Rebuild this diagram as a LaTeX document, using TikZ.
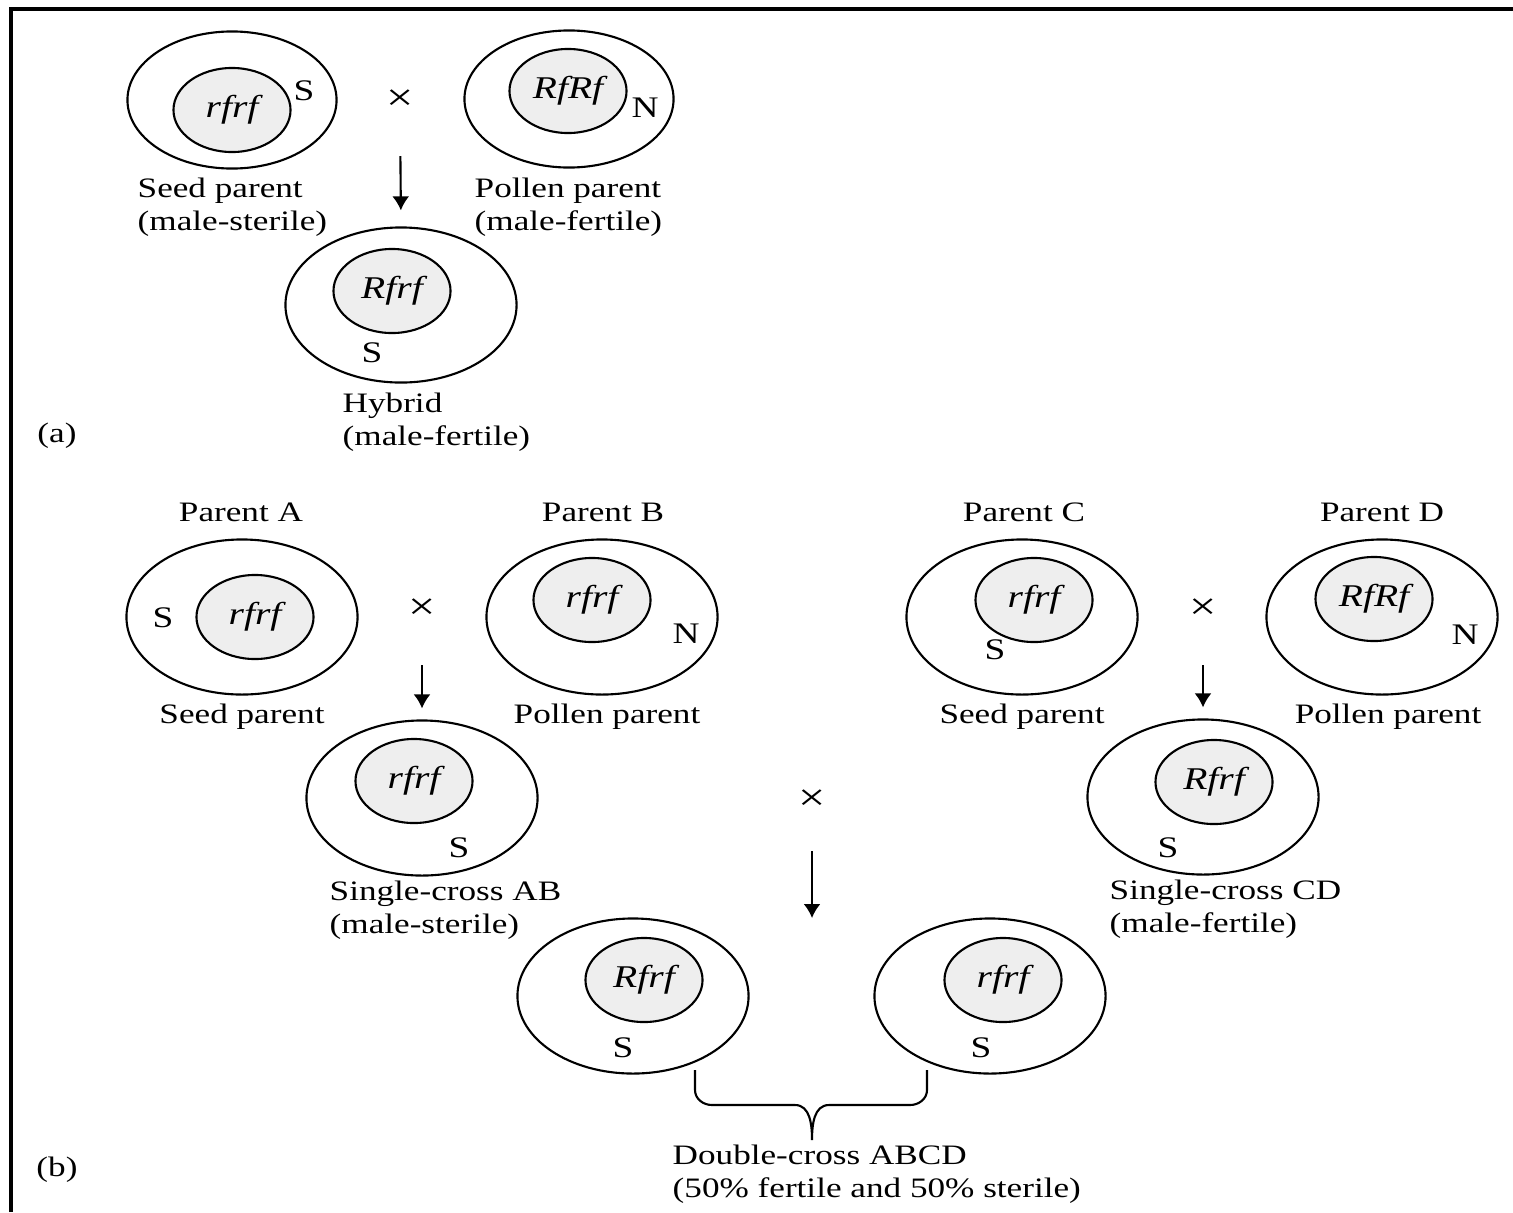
\documentclass[tikz,border=0pt]{standalone}
\usepackage{fontspec}
\setmainfont{Liberation Serif}[FakeStretch=1.25]
\usetikzlibrary{shapes.geometric,arrows.meta}
\begin{document}
\begin{tikzpicture}[x=0.01cm, y=-0.01cm, font=\fontsize{8}{9.4}\selectfont]
       \tikzstyle{cell}=[draw, ellipse, line width=0.6pt, minimum width=2.31cm, minimum height=1.55cm, inner sep=0pt]
       \tikzstyle{smallcell}=[cell, minimum width=2.09cm, minimum height=1.37cm]
       \tikzstyle{nucleus}=[draw, ellipse, line width=0.6pt, fill=gray!13, minimum width=1.17cm, minimum height=0.84cm, inner sep=0pt, font=\fontsize{9}{11}\selectfont\itshape]
       \tikzstyle{cyto}=[inner sep=0pt, font=\fontsize{8.5}{10}\selectfont]
       \tikzstyle{caption}=[inner sep=0pt, align=left, anchor=west]
       \tikzstyle{title}=[inner sep=0pt]
       \tikzstyle{times}=[inner sep=0pt, font=\fontsize{11}{12}\selectfont]
       \tikzstyle{descent}=[-{Latex[length=1.4mm, width=1.7mm]}, line width=0.6pt]
       \useasboundingbox (0,0) rectangle (1513,1212);
       \draw[line width=0.9pt] (11,1212) -- (11,9) -- (1513,9);

       \node[smallcell] (seed) at (232,100) {};
       \node[nucleus] (seedcore) at (232,110) {rfrf};
       \node[cyto] (seedcyto) at (304,91) {S};
       \node[times] (crossa) at (400,100) {×};
       \node[smallcell] (pollen) at (569,99) {};
       \node[nucleus] (pollencore) at (568,91) {RfRf};
       \node[cyto] (pollencyto) at (645,108) {N};
       \node[cell] (hybrid) at (401,305) {};
       \node[nucleus] (hybridcore) at (392,291) {Rfrf};
       \node[cyto] (hybridcyto) at (372,353) {S};
       \node[caption] (seedtext) at (137,207) {Seed parent\\(male-sterile)};
       \node[caption] (pollentext) at (474,207) {Pollen parent\\(male-fertile)};
       \node[caption] (hybridtext) at (342,422) {Hybrid\\(male-fertile)};
       \node[title] (parta) at (57,436) {(a)};
       \draw[descent, shorten <=0.45cm, shorten >=0.16cm] (crossa.south) -- (hybrid.north);

       \node[title] (parentA) at (241,512) {Parent A};
       \node[cell] (cellA) at (242,617) {};
       \node[nucleus] (coreA) at (255,617) {rfrf};
       \node[cyto] (cytoA) at (163,618) {S};
       \node[times] (crossAB) at (422,609) {×};
       \node[title] (parentB) at (603,512) {Parent B};
       \node[cell] (cellB) at (602,617) {};
       \node[nucleus] (coreB) at (592,600) {rfrf};
       \node[cyto] (cytoB) at (686,634) {N};
       \node[title] (seedAtext) at (242,717) {Seed parent};
       \node[title] (pollenBtext) at (607,717) {Pollen parent};
       \node[cell] (cellAB) at (422,798) {};
       \node[nucleus] (coreAB) at (414,781) {rfrf};
       \node[cyto] (cytoAB) at (459,848) {S};
       \node[caption] (textAB) at (329,910) {Single-cross AB\\(male-sterile)};
       \draw[descent, shorten <=0.45cm, shorten >=0.11cm] (crossAB.south) -- (cellAB.north);

       \node[title] (parentC) at (1024,512) {Parent C};
       \node[cell] (cellC) at (1022,617) {};
       \node[nucleus] (coreC) at (1034,600) {rfrf};
       \node[cyto] (cytoC) at (995,650) {S};
       \node[times] (crossCD) at (1203,609) {×};
       \node[title] (parentD) at (1382,512) {Parent D};
       \node[cell] (cellD) at (1382,617) {};
       \node[nucleus] (coreD) at (1374,599) {RfRf};
       \node[cyto] (cytoD) at (1465,635) {N};
       \node[title] (seedCtext) at (1022,717) {Seed parent};
       \node[title] (pollenDtext) at (1388,717) {Pollen parent};
       \node[cell] (cellCD) at (1203,797) {};
       \node[nucleus] (coreCD) at (1214,782) {Rfrf};
       \node[cyto] (cytoCD) at (1168,848) {S};
       \node[caption] (textCD) at (1109,909) {Single-cross CD\\(male-fertile)};
       \draw[descent, shorten <=0.45cm, shorten >=0.11cm] (crossCD.south) -- (cellCD.north);

       \node[times] (crossABCD) at (812,800) {×};
       \coordinate (dropABCD) at (812,918);
       \draw[descent, shorten <=0.4cm] (crossABCD.south) -- (dropABCD);
       \node[cell] (fertile) at (633,996) {};
       \node[nucleus] (corefertile) at (644,980) {Rfrf};
       \node[cyto] (cytofertile) at (623,1048) {S};
       \node[cell] (sterile) at (990,996) {};
       \node[nucleus] (coresterile) at (1003,980) {rfrf};
       \node[cyto] (cytosterile) at (981,1048) {S};
       \coordinate (braceL) at (695,1070);
       \coordinate (braceR) at (927,1070);
       \coordinate (braceTip) at (812,1140);
       \draw[line width=0.6pt] (braceL) -- (695,1090) to[out=-90, in=180] (712,1105) -- (795,1105)
            to[out=0, in=90] (braceTip) to[out=90, in=180] (829,1105) -- (910,1105)
            to[out=0, in=-90] (927,1090) -- (braceR);
       \node[caption] (textABCD) at (672,1174) {Double-cross ABCD\\(50\% fertile and 50\% sterile)};
       \node[title] (partb) at (57,1170) {(b)};
      \end{tikzpicture}
\end{document}
